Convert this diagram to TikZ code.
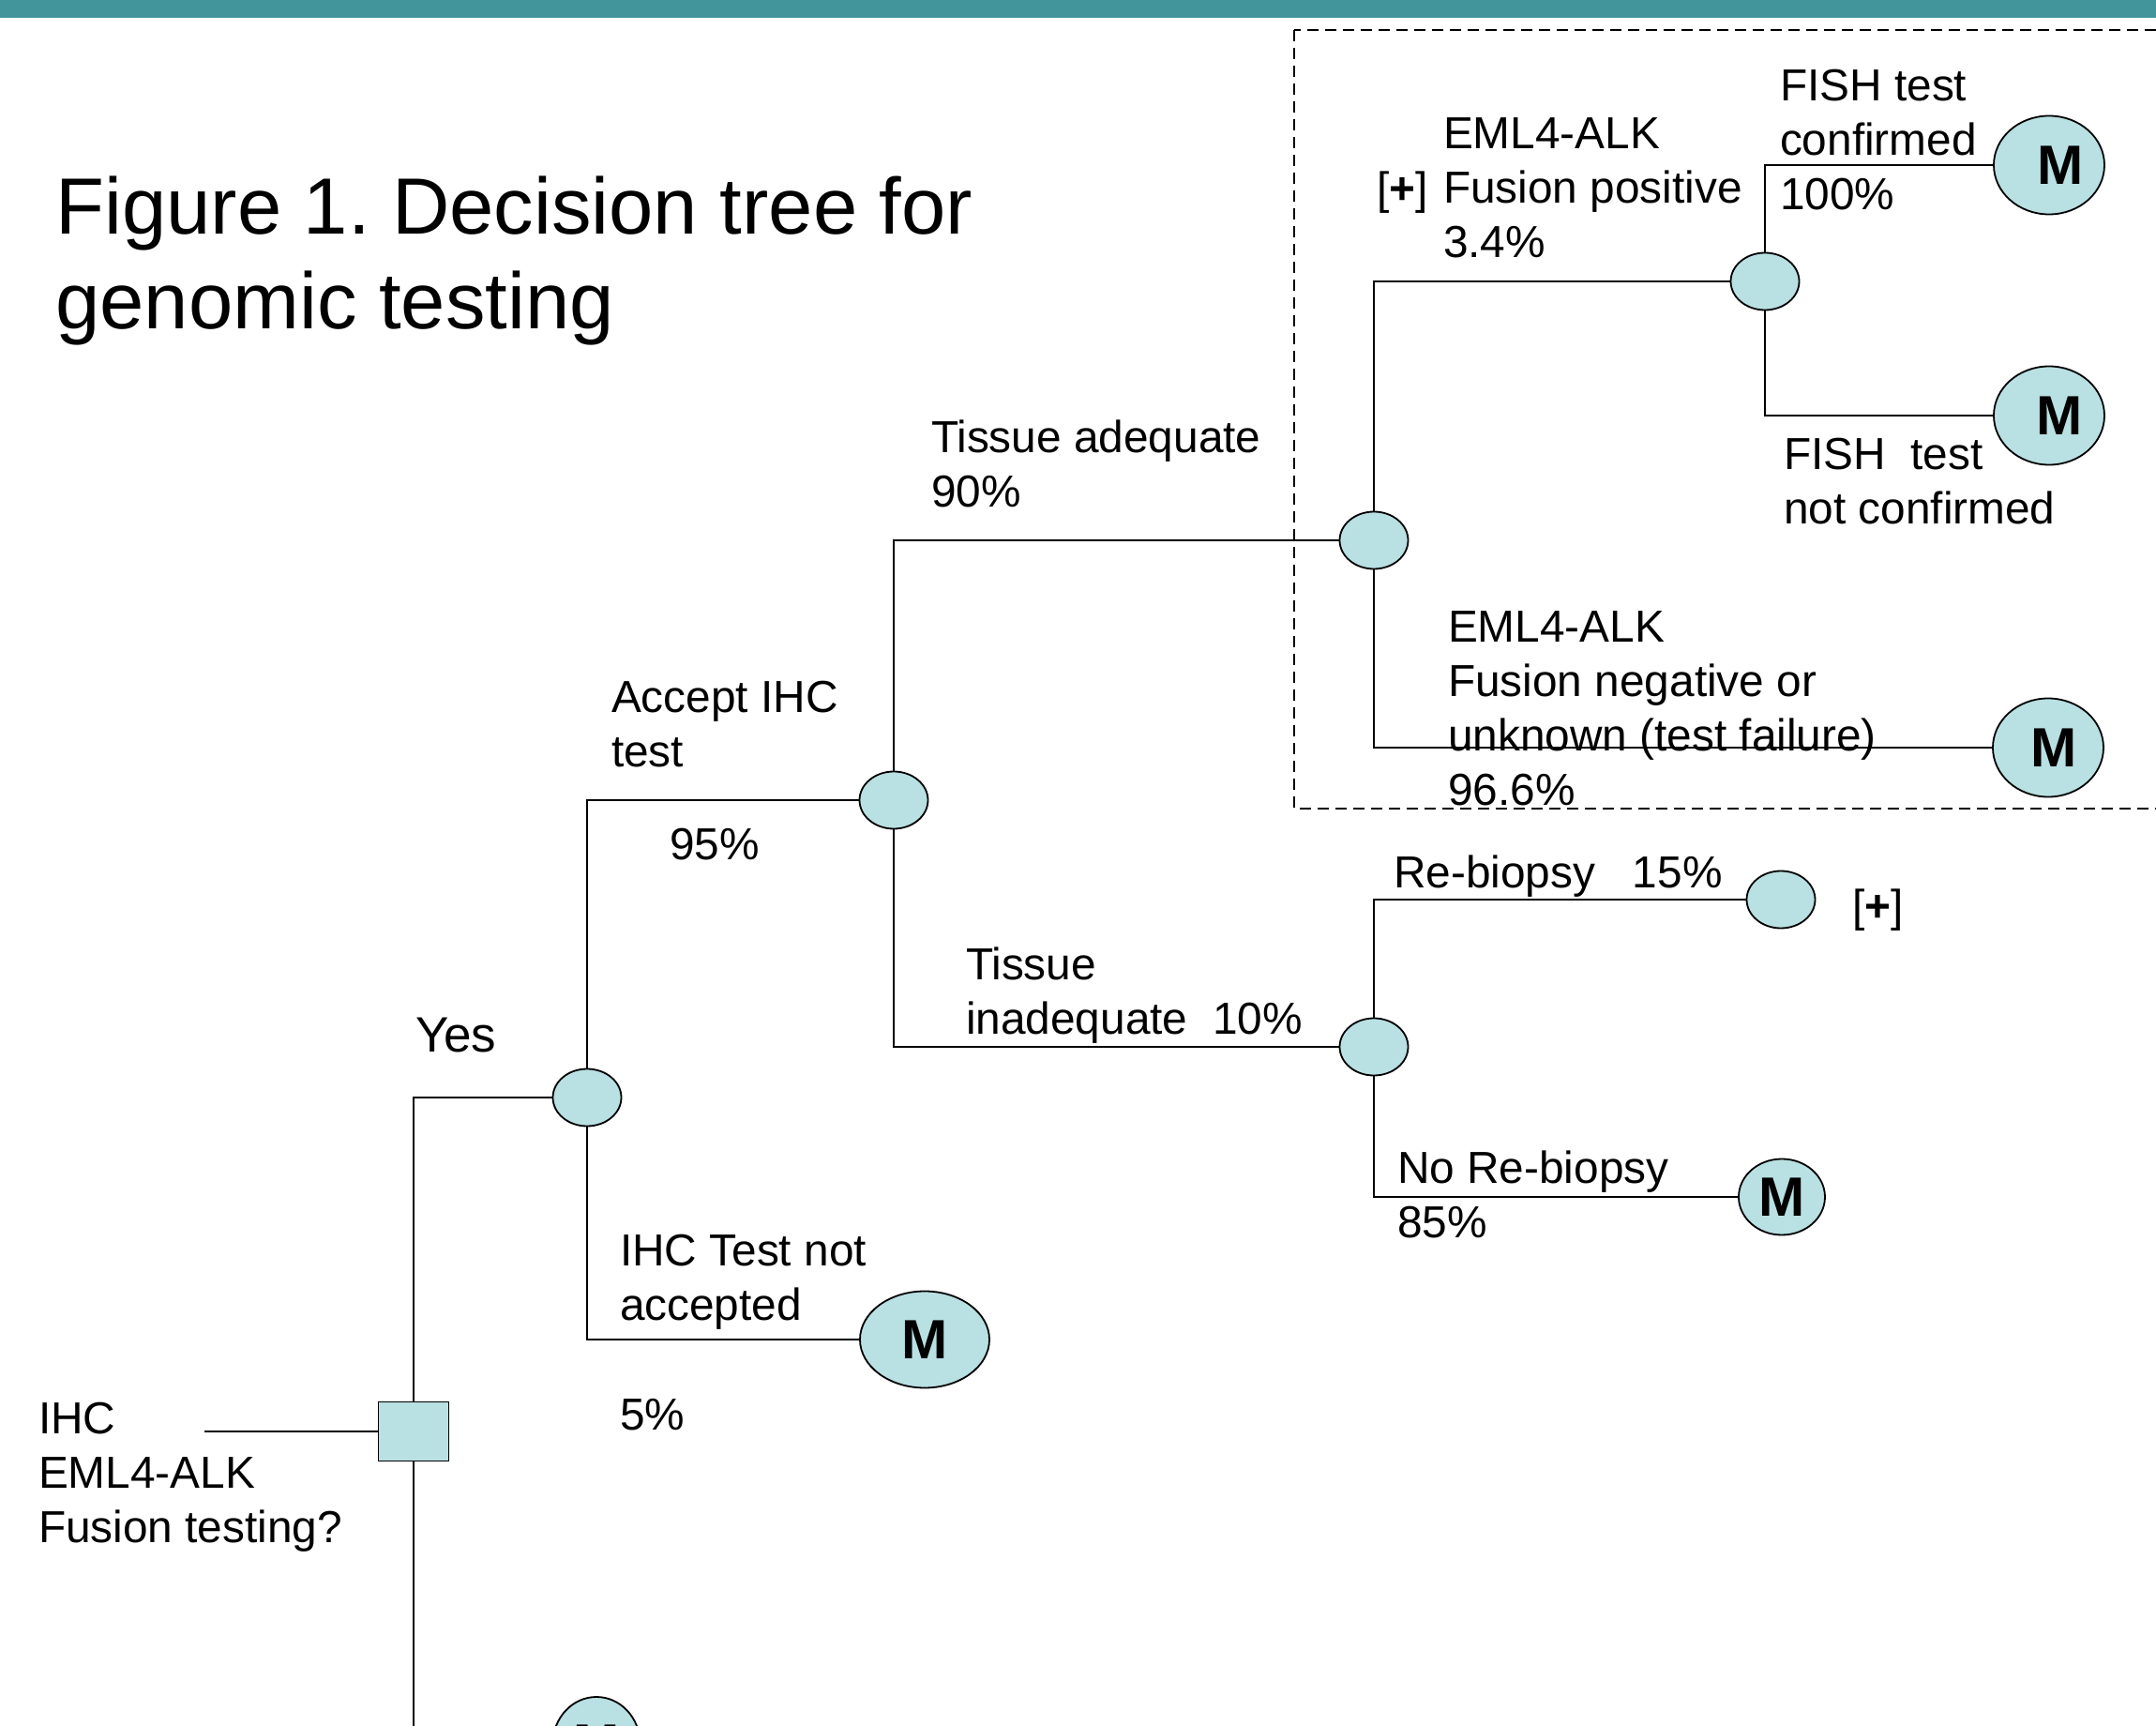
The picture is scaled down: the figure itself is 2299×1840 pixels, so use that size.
\documentclass[tikz,border=0pt]{standalone}
\usepackage{fontspec}
\setmainfont{Liberation Sans}
\usetikzlibrary{shapes.geometric}
\definecolor{barcol}{RGB}{67,149,156}
\definecolor{nodefill}{RGB}{185,224,227}
\begin{document}
\begin{tikzpicture}[x=0.5pt,y=-0.5pt,
  chance/.style={ellipse,draw,line width=0.9pt,fill=nodefill,inner sep=0pt,minimum width=36.5pt,minimum height=30.5pt},
  term/.style={ellipse,draw,line width=0.9pt,fill=nodefill,inner sep=0pt,font=\fontsize{29.5}{34}\selectfont\bfseries},
  decision/.style={rectangle,draw,line width=0.9pt,fill=nodefill,inner sep=0pt,minimum width=37.5pt,minimum height=31.5pt},
  lbl/.style={inner sep=0pt,outer sep=0pt,align=left,anchor=north west,font=\fontsize{23.9}{29}\selectfont},
  conn/.style={line width=0.9pt}
]
\useasboundingbox (0,0) rectangle (2299,1840);
\clip (0,0) rectangle (2299,1840);
\fill[barcol] (0,0) rectangle (2299,19);

% dashed box
\draw[line width=0.7pt,dash pattern=on 6pt off 3.5pt] (1380,32) rectangle (2330,862);

% title
\node[inner sep=0pt,align=left,anchor=north west,font=\fontsize{42.5}{50.5}\selectfont] (title) at (59,188) {Figure 1.\ Decision tree for\\genomic testing};

% nodes
\node[decision] (S) at (441,1526) {};
\coordinate (inp) at (218,1526);
\node[chance] (Cyes) at (626,1170) {};
\node[chance] (Cacc) at (953,853) {};
\node[chance] (Cadeq) at (1465,576) {};
\node[chance] (Cinad) at (1465,1116) {};
\node[chance] (Cfus) at (1882,300) {};
\node[chance] (Crebio) at (1899,959) {};
\node[term,minimum width=59pt,minimum height=52.5pt] (Mconf) at (2185,176) {\hspace*{12pt}M};
\node[term,minimum width=59pt,minimum height=52.5pt] (Mnot) at (2185,443) {\hspace*{11pt}M};
\node[term,minimum width=59pt,minimum height=52.5pt] (Mneg) at (2184,797) {\hspace*{6pt}M};
\node[term,minimum width=69pt,minimum height=51.5pt] (Mrej) at (986,1428) {M};
\node[term,minimum width=46pt,minimum height=40.5pt] (Mnorebio) at (1900,1276) {M};
\node[term,minimum width=46.5pt,minimum height=50pt] (Mbot) at (636,1859) {M};

% connectors
\draw[conn] (inp) -- (S.west);
\draw[conn] (S.north) |- (Cyes.west);
\draw[conn] (S.south) |- (Mbot.west);
\draw[conn] (Cyes.north) |- (Cacc.west);
\draw[conn] (Cyes.south) |- (Mrej.west);
\draw[conn] (Cacc.north) |- (Cadeq.west);
\draw[conn] (Cacc.south) |- (Cinad.west);
\draw[conn] (Cadeq.north) |- (Cfus.west);
\draw[conn] (Cadeq.south) |- (Mneg.west);
\draw[conn] (Cfus.north) |- (Mconf.west);
\draw[conn] (Cfus.south) |- (Mnot.west);
\draw[conn] (Cinad.north) |- (Crebio.west);
\draw[conn] (Cinad.south) |- (Mnorebio.west);

% labels
\node[lbl] (l1) at (993,448) {Tissue adequate\\90\%};
\node[lbl] (l2) at (652,726) {Accept IHC\\test};
\node[lbl] (l3) at (714,883) {95\%};
\node[lbl] (l4) at (1030,1010) {Tissue\\inadequate\ \ 10\%};
\node[lbl,font=\fontsize{26.5}{31}\selectfont] (l5) at (443,1085) {Yes};
\node[lbl] (l6) at (661,1316) {IHC Test not\\accepted};
\node[lbl] (l7) at (661,1491) {5\%};
\node[lbl] (l8) at (41,1495) {IHC\\EML4-ALK\\Fusion testing?};
\node[lbl] (l9) at (1539,126) {EML4-ALK\\Fusion positive\\3.4\%};
\node[lbl] (l10) at (1468,183) {[\textbf{+}]};
\node[lbl] (l11) at (1898,74) {FISH test\\confirmed\\100\%};
\node[lbl] (l12) at (1902,467) {FISH\ \ test\\not confirmed};
\node[lbl] (l13) at (1544,652) {EML4-ALK\\Fusion negative or\\unknown (test failure)\\96.6\%};
\node[lbl] (l14) at (1486,912) {Re-biopsy\ \ \ 15\%};
\node[lbl] (l15) at (1975,948) {[\textbf{+}]};
\node[lbl] (l16) at (1490,1227) {No Re-biopsy\\85\%};
\end{tikzpicture}
\end{document}
